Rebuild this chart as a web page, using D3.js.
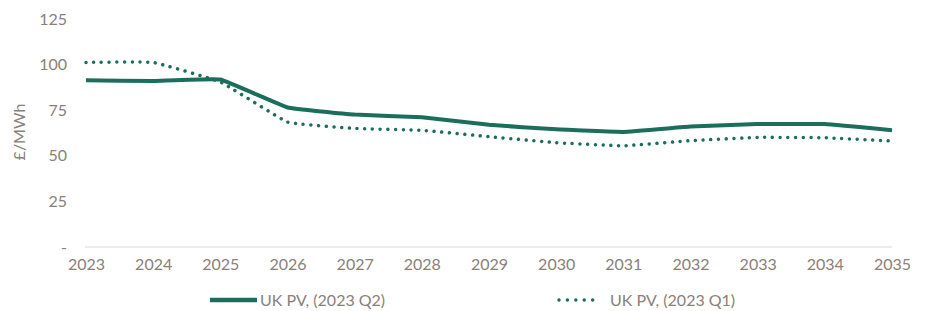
<!doctype html>
<html>
<head>
<meta charset="UTF-8">
<script src="https://cdnjs.cloudflare.com/ajax/libs/d3/7.8.5/d3.min.js"></script>
<style>
  body { margin: 0; background: #fff; }
  text { font-family: Lato, "Open Sans", sans-serif; fill: #8a8079; }
</style>
</head>
<body>
<script>
// chart data
var years = ["2023","2024","2025","2026","2027","2028","2029","2030","2031","2032","2033","2034","2035"];
var q2 = [91.4, 91.0, 91.8, 76.5, 72.6, 71.1, 67.0, 64.5, 63.1, 66.0, 67.4, 67.4, 64.0];
var q1 = [101.2, 101.2, 90.5, 68.5, 65.0, 64.0, 60.5, 57.2, 55.5, 58.3, 60.1, 59.9, 58.1];
var yTicks = [0, 25, 50, 75, 100, 125];
var seriesNames = ["UK PV, (2023 Q2)", "UK PV, (2023 Q1)"];

var width = 927, height = 311;
var green = "#1b6e5c";

var svg = d3.select("body").append("svg")
    .attr("width", width)
    .attr("height", height);

var x = d3.scalePoint()
    .domain(years)
    .range([86, 892]);

var y = d3.scaleLinear()
    .domain([0, 125])
    .range([247, 19]);

// baseline
svg.append("line")
    .attr("x1", 85).attr("x2", 892)
    .attr("y1", y(0)).attr("y2", y(0))
    .attr("stroke", "#d9d9d9")
    .attr("stroke-width", 1);

// y axis labels
var yAxis = d3.axisLeft(y)
    .tickValues(yTicks)
    .tickSize(0)
    .tickPadding(0)
    .tickFormat(function(d){ return d === 0 ? "-" : d; });

svg.append("g")
    .attr("transform", "translate(67,0)")
    .call(yAxis)
    .call(function(g){ g.select(".domain").remove(); })
    .selectAll("text")
    .style("font-size", "16px")
    .attr("fill", "#8a8079");

// x axis labels
var xAxis = d3.axisBottom(x).tickSize(0).tickPadding(0);
svg.append("g")
    .attr("transform", "translate(0,259)")
    .call(xAxis)
    .call(function(g){ g.select(".domain").remove(); })
    .selectAll("text")
    .style("font-size", "16px")
    .attr("fill", "#8a8079");

// y title
svg.append("text")
    .attr("text-anchor", "middle")
    .attr("transform", "translate(25,132)rotate(-90)")
    .style("font-size", "16px")
    .text("£/MWh");

var line = d3.line()
    .x(function(d, i){ return x(years[i]); })
    .y(function(d){ return y(d); })
    .curve(d3.curveCardinal.tension(0.75));

svg.append("path")
    .attr("d", line(q1))
    .attr("fill", "none")
    .attr("stroke", green)
    .attr("stroke-width", 3.5)
    .attr("stroke-linecap", "round")
    .attr("stroke-dasharray", "0.01 7.7");

svg.append("path")
    .attr("d", line(q2))
    .attr("fill", "none")
    .attr("stroke", green)
    .attr("stroke-width", 4);

// legend
var lg = svg.append("g");
lg.append("line")
    .attr("x1", 210).attr("x2", 257)
    .attr("y1", 300).attr("y2", 300)
    .attr("stroke", green).attr("stroke-width", 4.5);
lg.append("text")
    .attr("x", 260).attr("y", 306)
    .style("font-size", "16px")
    .text(seriesNames[0]);

lg.append("line")
    .attr("x1", 559).attr("x2", 601)
    .attr("y1", 300).attr("y2", 300)
    .attr("stroke", green).attr("stroke-width", 3.5)
    .attr("stroke-linecap", "round")
    .attr("stroke-dasharray", "0.01 8.4");
lg.append("text")
    .attr("x", 610).attr("y", 306)
    .style("font-size", "16px")
    .text(seriesNames[1]);
</script>
</body>
</html>
